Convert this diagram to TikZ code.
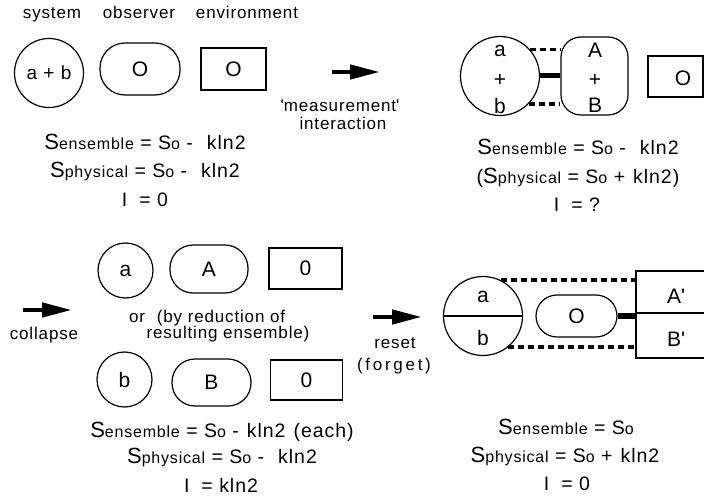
\documentclass[tikz,border=0pt]{standalone}
\usepackage{fontspec}
\setmainfont[LetterSpace=5]{Liberation Sans}
\usetikzlibrary{arrows.meta}
\newcommand\Sx[1]{{\fontsize{22}{22}\selectfont S}{\fontsize{16}{16}\selectfont #1}}
\newcommand\Sz{{\fontsize{19.5}{19.5}\selectfont S}{\fontsize{16}{16}\selectfont o}}
\begin{document}
\begin{tikzpicture}[x=1pt,y=-1pt,line width=1.2pt,
  lab/.style={font=\fontsize{17}{17}\selectfont, inner sep=0, anchor=base},
  eq/.style={font=\fontsize{19.5}{19.5}\selectfont, inner sep=0, anchor=base},
  ltr/.style={font=\fontsize{21}{21}\selectfont, inner sep=0},
  sysc/.style={draw, circle, inner sep=0, minimum size=#1},
  obs/.style n args={3}{draw, rectangle, inner sep=0, rounded corners=#3, minimum width=#1, minimum height=#2},
  envb/.style n args={2}{draw, rectangle, inner sep=0, minimum width=#1, minimum height=#2},
  arr/.style={line width=4.5pt, -{Triangle[length=30pt,width=14pt]}},
  dots/.style={line width=3.5pt, dash pattern=on 6pt off 4pt},
  bar/.style={line width=#1}]
\useasboundingbox (0,0) rectangle (704,497);
\clip (0,0) rectangle (704,497);

% ---- top labels
\node[lab] (lsys) at (52,19) {system};
\node[lab] (lobs) at (139,19) {observer};
\node[lab] (lenv) at (247,19) {environment};

% ---- top-left state
\node[sysc=69, font=\fontsize{19}{19}\selectfont] (s1) at (49,73) {a + b};
\node[obs={80}{52}{25}, ltr] (o1) at (140,69) {O};
\node[envb={65}{42}, ltr] (e1) at (233.5,69) {O};

\node[eq] (q11) at (145,150) {\Sx{ensemble} = \Sz\ -\hspace{14pt}kln2};
\node[eq] (q12) at (145,178) {\Sx{physical} = \Sz\ -\hspace{14pt}kln2};
\node[eq] (q13) at (145,207) {I\hspace{12pt}= 0};

% ---- measurement arrow
\coordinate (m1) at (332,72);
\coordinate (m2) at (380,72);
\draw[arr] (m1) -- (m2);
\node[lab] (lm1) at (340,112) {\textquotesingle measurement\textquotesingle};
\node[lab] (lm2) at (343,130) {interaction};

% ---- top-right state
\node[sysc=79] (s2) at (500,76) {};
\node[ltr, anchor=base] (s2a) at (500,57) {a};
\node[ltr] (s2p) at (500,80) {+};
\node[ltr, anchor=base] (s2b) at (500,114) {b};
\node[obs={67}{78}{20}] (o2) at (594.5,76) {};
\node[ltr, anchor=base] (o2a) at (595,58) {A};
\node[ltr] (o2p) at (595,80) {+};
\node[ltr, anchor=base] (o2b) at (595,113) {B};
\node[envb={55}{41}] (e2) at (675.5,76.5) {};
\node[ltr] (e2t) at (683,78) {O};
\draw[bar=5pt] (s2.east) -- (o2.west);
\draw[dots] (s2.41) -- (s2.41 -| o2.west);
\draw[dots] (s2.-44) -- (s2.-44 -| o2.west);

\node[eq] (q21) at (578,155) {\Sx{ensemble} = \Sz\ -\hspace{14pt}kln2};
\node[eq] (q22) at (578,184) {(\Sx{physical} = \Sz\ +\hspace{8pt}kln2)};
\node[eq] (q23) at (577,212) {I\hspace{12pt}= ?};

% ---- collapse
\coordinate (c1) at (23,310);
\coordinate (c2) at (72,310);
\draw[arr] (c1) -- (c2);
\node[lab] (lc) at (44,339) {collapse};
\node[lab] (lor) at (137,322) {or};
\node[lab] (lby1) at (221,322) {(by reduction of};
\node[lab] (lby2) at (228,338) {resulting ensemble)};

\node[sysc=55, ltr] (s3) at (125.5,270.5) {a};
\node[obs={78}{48}{23}, ltr] (o3) at (209,269) {A};
\node[envb={73}{41}, ltr] (e3) at (305.5,268.5) {0};

\node[sysc=55, ltr] (s4) at (124.5,379.5) {b};
\node[obs={79}{47}{23}, ltr] (o4) at (211.5,382.5) {B};
\node[envb={72}{40}, ltr] (e4) at (306.5,380) {0};

\node[eq] (q31) at (222,437) {\Sx{ensemble} = \Sz\ -\hspace{8pt}kln2\hspace{8pt}(each)};
\node[eq] (q32) at (222,463) {\Sx{physical} = \Sz\ -\hspace{14pt}kln2};
\node[eq] (q33) at (221,492) {I\hspace{12pt}= kln2};

% ---- reset
\coordinate (r1) at (373,317);
\coordinate (r2) at (422,317);
\draw[arr] (r1) -- (r2);
\node[lab] (lr1) at (395,348) {reset};
\node[lab, font=\fontsize{17}{17}\selectfont\addfontfeatures{LetterSpace=16}] (lr2) at (394,370) {(forget)};

\node[sysc=79] (s5) at (483,316) {};
\draw[line width=1.2pt] (s5.west) -- (s5.east);
\node[ltr, anchor=base] (s5a) at (483,302) {a};
\node[ltr, anchor=base] (s5b) at (483,345) {b};
\node[obs={81}{42}{21}, ltr] (o5) at (576.5,316) {O};
\node[envb={84}{87}] (e5) at (678,314.5) {};
\draw[line width=1.2pt] (e5.west |- 0,313) -- (e5.east |- 0,313);
\node[ltr, anchor=base] (e5a) at (676,303) {A\textquotesingle};
\node[ltr, anchor=base] (e5b) at (676,346) {B\textquotesingle};
\draw[bar=6pt] (o5.east) -- (o5.east -| e5.west);
\draw[dots] (s5.64) -- (s5.64 -| e5.west);
\draw[dots] (s5.-51) -- (s5.-51 -| e5.west);

\node[eq] (q41) at (566,434) {\Sx{ensemble} = \Sz};
\node[eq] (q42) at (565,462) {\Sx{physical} = \Sz\ +\hspace{8pt}kln2};
\node[eq] (q43) at (567,490) {I\hspace{12pt}= 0};
\end{tikzpicture}
\end{document}
